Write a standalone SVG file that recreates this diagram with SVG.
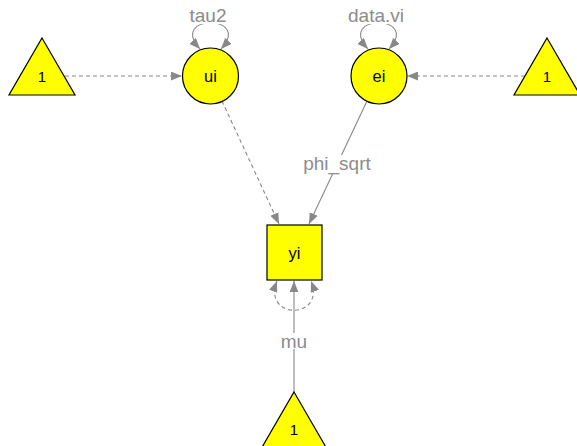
<svg xmlns="http://www.w3.org/2000/svg" width="577" height="446" viewBox="0 0 577 446">
  <defs>
    <marker id="arr" viewBox="0 0 10 8" refX="10" refY="4" markerWidth="11" markerHeight="9" markerUnits="userSpaceOnUse" orient="auto-start-reverse">
      <path d="M0,0 L10,4 L0,8 z" fill="#888888"/>
    </marker>
  </defs>
  <style>
    .node { fill: #ffff00; stroke: #000000; stroke-width: 1.2; }
    .nlab { font-family: "Liberation Sans", Arial, sans-serif; font-size: 16.5px; fill: #000000; text-anchor: middle; }
    .tlab { font-family: "Liberation Sans", Arial, sans-serif; font-size: 15px; fill: #000000; text-anchor: middle; }
    .edge { fill: none; stroke: #888888; stroke-width: 1.1; }
    .dash { stroke-dasharray: 4 3; }
    .elab { font-family: "Liberation Sans", Arial, sans-serif; font-size: 19px; fill: #8c8c8c; text-anchor: middle; }
    .lbg { fill: #ffffff; }
  </style>

  <g id="connectors">
    <!-- intercepts into the latent variables -->
    <line class="edge dash" x1="65" y1="76" x2="182" y2="76" marker-end="url(#arr)"/>
    <line class="edge dash" x1="525" y1="76" x2="407" y2="76" marker-end="url(#arr)"/>
    <!-- latent variables into yi -->
    <line class="edge dash" x1="222" y1="101" x2="279" y2="224" marker-end="url(#arr)"/>
    <line class="edge" x1="367" y1="101" x2="309" y2="224" marker-end="url(#arr)"/>
    <!-- mean path -->
    <line class="edge" x1="294" y1="392" x2="294" y2="281" marker-end="url(#arr)"/>
    <!-- variance loops -->
    <path class="edge" d="M200,49 C168,14 253,14 221,49" marker-start="url(#arr)" marker-end="url(#arr)"/>
    <path class="edge" d="M368,49 C336,14 421,14 389,49" marker-start="url(#arr)" marker-end="url(#arr)"/>
    <path class="edge dash" d="M277,281 C262,320 326,320 311,281" marker-start="url(#arr)" marker-end="url(#arr)"/>
    <!-- edge labels -->
    <rect class="lbg" x="189" y="5" width="38" height="19"/>
    <text class="elab" x="208" y="22">tau2</text>
    <rect class="lbg" x="348" y="5" width="57" height="19"/>
    <text class="elab" x="376" y="22">data.vi</text>
    <rect class="lbg" x="303" y="155" width="69" height="18"/>
    <text class="elab" x="337" y="170">phi_sqrt</text>
    <rect class="lbg" x="281" y="333" width="27" height="16"/>
    <text class="elab" x="294" y="348">mu</text>
  </g>

  <g id="ui">
    <circle class="node" cx="210.5" cy="76" r="28"/>
    <text class="nlab" x="210.5" y="82">ui</text>
  </g>
  <g id="ei">
    <circle class="node" cx="379" cy="76" r="28"/>
    <text class="nlab" x="379" y="82">ei</text>
  </g>
  <g id="yi">
    <rect class="node" x="267" y="225" width="55" height="55"/>
    <text class="nlab" x="294.5" y="259">yi</text>
  </g>
  <g id="one_left">
    <polygon class="node" points="42,38 75,95 9,95"/>
    <text class="tlab" x="42" y="82">1</text>
  </g>
  <g id="one_right">
    <polygon class="node" points="547,38 580,95 514,95"/>
    <text class="tlab" x="547" y="82">1</text>
  </g>
  <g id="one_bottom">
    <polygon class="node" points="294,392 327,449 261,449"/>
    <text class="tlab" x="294" y="435">1</text>
  </g>
</svg>
